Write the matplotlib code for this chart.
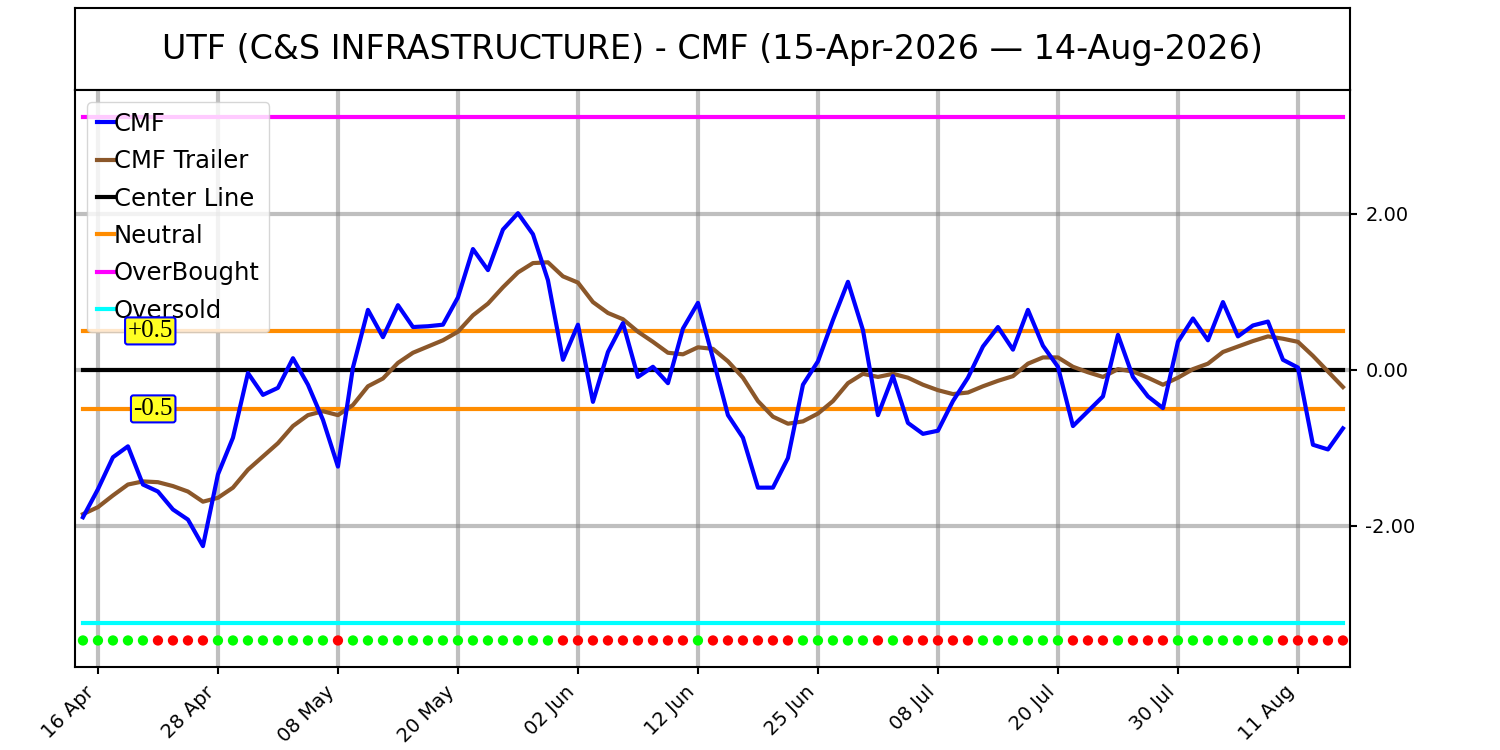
import matplotlib
matplotlib.use("Agg")
import matplotlib.pyplot as plt
import pandas as pd
import numpy as np

# ---- data ----
holidays = ["2026-05-25", "2026-06-19", "2026-07-03"]
dates = [d for d in pd.bdate_range("2026-04-15", "2026-08-14") if d.strftime("%Y-%m-%d") not in holidays]

cmf = [-1.89, -1.53, -1.12, -0.98, -1.47, -1.56, -1.79, -1.92, -2.26, -1.34,
       -0.87, -0.04, -0.32, -0.23, 0.15, -0.19, -0.64, -1.24, 0.03, 0.77,
       0.42, 0.83, 0.55, 0.56, 0.58, 0.93, 1.55, 1.28, 1.80, 2.01,
       1.74, 1.15, 0.13, 0.58, -0.41, 0.23, 0.60, -0.09, 0.04, -0.17,
       0.53, 0.86, 0.15, -0.58, -0.87, -1.51, -1.51, -1.13, -0.19, 0.11,
       0.64, 1.13, 0.51, -0.58, -0.08, -0.68, -0.82, -0.78, -0.40, -0.10,
       0.30, 0.55, 0.26, 0.77, 0.31, 0.04, -0.72, -0.53, -0.34, 0.45,
       -0.09, -0.34, -0.49, 0.36, 0.66, 0.38, 0.87, 0.43, 0.57, 0.62,
       0.13, 0.03, -0.96, -1.02, -0.75]

trailer = [-1.85, -1.76, -1.61, -1.47, -1.43, -1.44, -1.49, -1.56, -1.69, -1.64,
           -1.51, -1.28, -1.11, -0.94, -0.72, -0.58, -0.53, -0.58, -0.45, -0.21,
           -0.11, 0.09, 0.22, 0.30, 0.38, 0.49, 0.70, 0.85, 1.06, 1.25,
           1.37, 1.38, 1.20, 1.12, 0.87, 0.73, 0.65, 0.49, 0.36, 0.22,
           0.20, 0.29, 0.27, 0.11, -0.10, -0.40, -0.60, -0.69, -0.66, -0.56,
           -0.40, -0.17, -0.05, -0.09, -0.05, -0.10, -0.19, -0.26, -0.31, -0.29,
           -0.21, -0.14, -0.08, 0.08, 0.16, 0.16, 0.04, -0.03, -0.09, 0.01,
           -0.02, -0.10, -0.19, -0.10, 0.01, 0.08, 0.23, 0.30, 0.37, 0.43,
           0.40, 0.36, 0.18, -0.02, -0.22]

signal = ("GGGGGRRRRGGGGGGGGRGGGGGGGGGGGGGG"
          "RRRRRRRRRGRRRRRRGGGGGRGRRRRRGGGGGGRRRGRRRGGGGGGGRRRRR")

center_level = 0.0
neutral_hi = 0.5
neutral_lo = -0.5
overbought = 3.24
oversold = -3.24
dot_level = -3.47
ytick_vals = [-2, 0, 2]

title = "UTF (C&S INFRASTRUCTURE) - CMF (15-Apr-2026 \u2014 14-Aug-2026)"

# ---- figure ----
fig = plt.figure(figsize=(15, 7.5), dpi=100)
ax_t = fig.add_axes([0.05, 0.88, 0.85, 0.1093])
ax_t.set_xticks([]); ax_t.set_yticks([])
for s in ax_t.spines.values():
    s.set_linewidth(1.5)
ax_t.text(0.5, 0.5, title, ha="center", va="center", fontsize=24, transform=ax_t.transAxes)

ax = fig.add_axes([0.05, 0.1107, 0.85, 0.7693])
x = np.arange(len(cmf))
n = len(cmf)

ax.plot(x, cmf, color="blue", lw=3, label="CMF", zorder=5)
ax.plot(x, trailer, color="#8B572A", lw=3, label="CMF Trailer", zorder=4)
ax.plot(x, [center_level] * n, color="black", lw=3, label="Center Line", zorder=3)
ax.plot(x, [neutral_hi] * n, color="#FF8C00", lw=3, label="Neutral", zorder=3)
ax.plot(x, [neutral_lo] * n, color="#FF8C00", lw=3, zorder=3)
ax.plot(x, [overbought] * n, color="magenta", lw=3, label="OverBought", zorder=3)
ax.plot(x, [oversold] * n, color="cyan", lw=3, label="Oversold", zorder=3)

cols = ["#00FF00" if c == "G" else "#FF0000" for c in signal]
ax.scatter(x, [dot_level] * n, c=cols, s=55, zorder=6, linewidths=0)

bbox = dict(boxstyle="round,pad=0.1", facecolor="#FFFF22", edgecolor="blue", linewidth=1.5)
ax.text(6.0, neutral_hi, "+0.5", ha="right", va="center", fontsize=18,
        family="Liberation Serif", bbox=bbox, zorder=7)
ax.text(6.0, neutral_lo, "-0.5", ha="right", va="center", fontsize=18,
        family="Liberation Serif", bbox=bbox, zorder=7)

ax.set_xlim(-0.53, n - 1 + 0.47)
ax.set_ylim(-3.81, 3.59)

tick_idx = list(range(1, n, 8))
ax.set_xticks(tick_idx)
ax.set_xticklabels([dates[i].strftime("%d %b") for i in tick_idx], rotation=45, ha="right",
                   fontsize=14)
ax.set_yticks(ytick_vals)
ax.set_yticklabels(["%.2f" % v for v in ytick_vals], fontsize=14)
ax.yaxis.tick_right()
ax.tick_params(length=5, width=1.5, pad=6)
ax.grid(True, color="gray", alpha=0.5, lw=3)
ax.set_axisbelow(True)
for s in ax.spines.values():
    s.set_linewidth(1.5)

ax.legend(loc="upper left", fontsize=17.5, handlelength=0.7, handletextpad=0.0,
          borderaxespad=0.5, labelspacing=0.55)

fig.savefig("out.png", dpi=100)
